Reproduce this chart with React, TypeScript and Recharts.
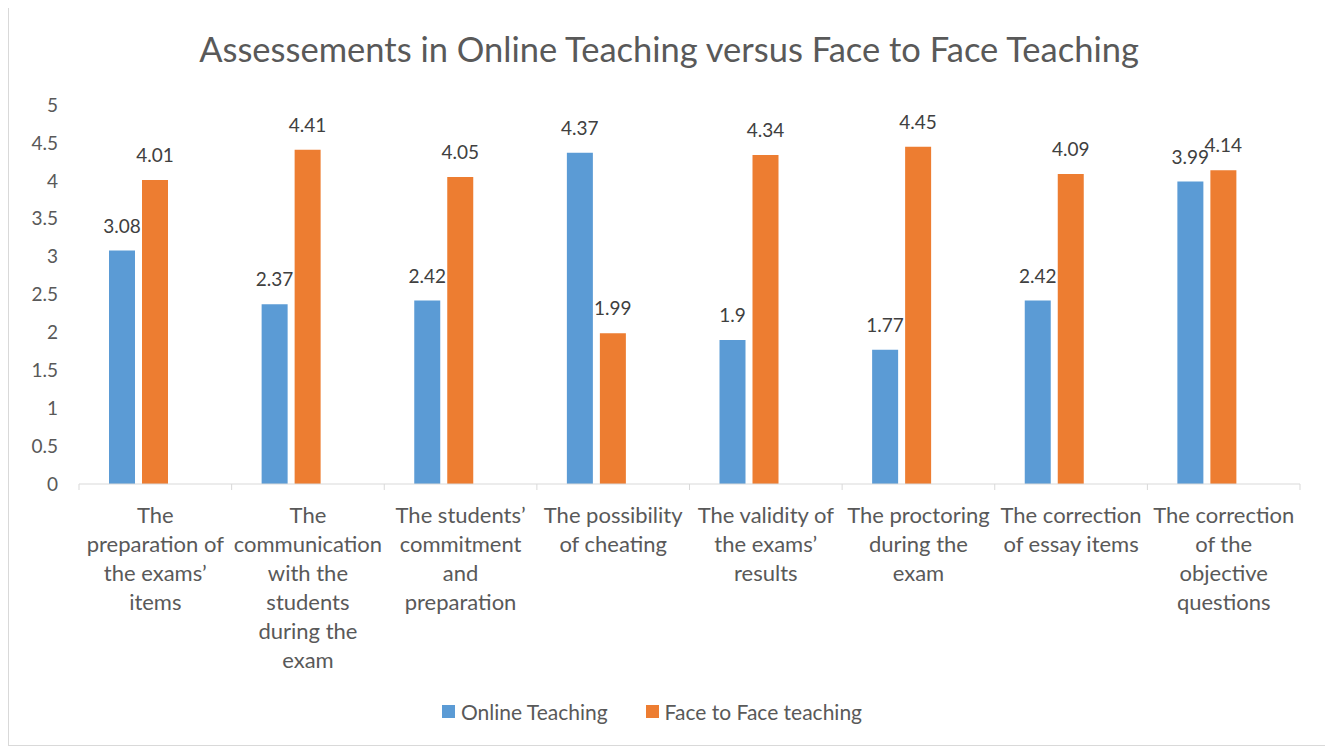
import { BarChart, Bar, XAxis, YAxis, Legend, LabelList } from "recharts"

const categories = [
  "The\npreparation of\nthe exams’\nitems",
  "The\ncommunication\nwith the\nstudents\nduring the\nexam",
  "The students’\ncommitment\nand\npreparation",
  "The possibility\nof cheating",
  "The validity of\nthe exams’\nresults",
  "The proctoring\nduring the\nexam",
  "The correction\nof essay items",
  "The correction\nof the\nobjective\nquestions",
]

const onlineTeaching = [3.08, 2.37, 2.42, 4.37, 1.9, 1.77, 2.42, 3.99]
const faceToFace = [4.01, 4.41, 4.05, 1.99, 4.34, 4.45, 4.09, 4.14]

const seriesOrder = ["Online Teaching", "Face to Face teaching"]
const yTicks = [0, 0.5, 1, 1.5, 2, 2.5, 3, 3.5, 4, 4.5, 5]

const data = categories.map((category, i) => ({
  category,
  online: onlineTeaching[i],
  face: faceToFace[i],
  blank: null,
}))

const FONT = "Lato, 'Open Sans', sans-serif"
const AXIS = "#d9d9d9"

// label lines + the small tick marks on the category boundaries
function CategoryTick({ x, y, payload, index }: any) {
  const lines = String(payload.value).split("\n")
  const half = payload.offset || 0
  const last = index === categories.length - 1
  return (
    <g>
      <line x1={x - half} x2={x - half} y1={y} y2={y + 6} stroke={AXIS} />
      {last && <line x1={x + half} x2={x + half} y1={y} y2={y + 6} stroke={AXIS} />}
      <text x={x} y={y + 39} textAnchor="middle" fill="#595959" fontSize={22} fontFamily={FONT}>
        {lines.map((line, i) => (
          <tspan key={i} x={x} dy={i === 0 ? 0 : 29}>
            {line}
          </tspan>
        ))}
      </text>
    </g>
  )
}

function LegendContent({ payload }: any) {
  const items = (payload || [])
    .filter((p: any) => seriesOrder.includes(p.value))
    .sort((a: any, b: any) => seriesOrder.indexOf(a.value) - seriesOrder.indexOf(b.value))
  return (
    <div style={{ display: "flex", justifyContent: "center", gap: 38, fontFamily: FONT, paddingRight: 34 }}>
      {items.map((p: any) => (
        <div key={p.value} style={{ display: "flex", alignItems: "center", gap: 6 }}>
          <span style={{ width: 13, height: 13, background: p.color, display: "inline-block" }} />
          <span style={{ fontSize: 21, color: "#595959" }}>{p.value}</span>
        </div>
      ))}
    </div>
  )
}

export default function App() {
  return (
    <div
      style={{
        position: "relative",
        width: 1320,
        height: 737,
        border: "1px solid #d9d9d9",
        marginTop: -1,
        background: "#fff",
        fontFamily: FONT,
      }}
    >
      <div
        style={{
          position: "absolute",
          top: 21,
          left: 0,
          width: 1320,
          textAlign: "center",
          fontSize: 34.5,
          lineHeight: "40px",
          color: "#595959",
        }}
      >
        Assessements in Online Teaching versus Face to Face Teaching
      </div>
      <div style={{ position: "absolute", top: 0, left: 0 }}>
        <BarChart
          width={1320}
          height={737}
          data={data}
          margin={{ top: 97, right: 29, bottom: 61, left: 0 }}
          barCategoryGap={30}
          barGap={7}
        >
          <XAxis
            dataKey="category"
            height={200}
            interval={0}
            axisLine={{ stroke: AXIS }}
            tickLine={false}
            tickSize={0}
            tickMargin={0}
            tick={<CategoryTick />}
          />
          <YAxis
            domain={[0, 5]}
            ticks={yTicks}
            width={70}
            axisLine={false}
            tickLine={false}
            tickSize={0}
            tickMargin={21}
            tick={{ fill: "#595959", fontSize: 19, fontFamily: FONT }}
          />
          <Legend
            verticalAlign="middle"
            align="center"
            layout="horizontal"
            content={<LegendContent />}
            wrapperStyle={{ top: 691, left: 0, width: 1320 }}
          />
          <Bar dataKey="online" name="Online Teaching" fill="#5B9BD5" isAnimationActive={false}>
            <LabelList dataKey="online" position="top" offset={18} fill="#404040" fontSize={19} fontFamily={FONT} />
          </Bar>
          <Bar dataKey="face" name="Face to Face teaching" fill="#ED7D31" isAnimationActive={false}>
            <LabelList dataKey="face" position="top" offset={18} fill="#404040" fontSize={19} fontFamily={FONT} />
          </Bar>
          <Bar dataKey="blank" legendType="none" fill="#A5A5A5" isAnimationActive={false} />
        </BarChart>
      </div>
    </div>
  )
}
